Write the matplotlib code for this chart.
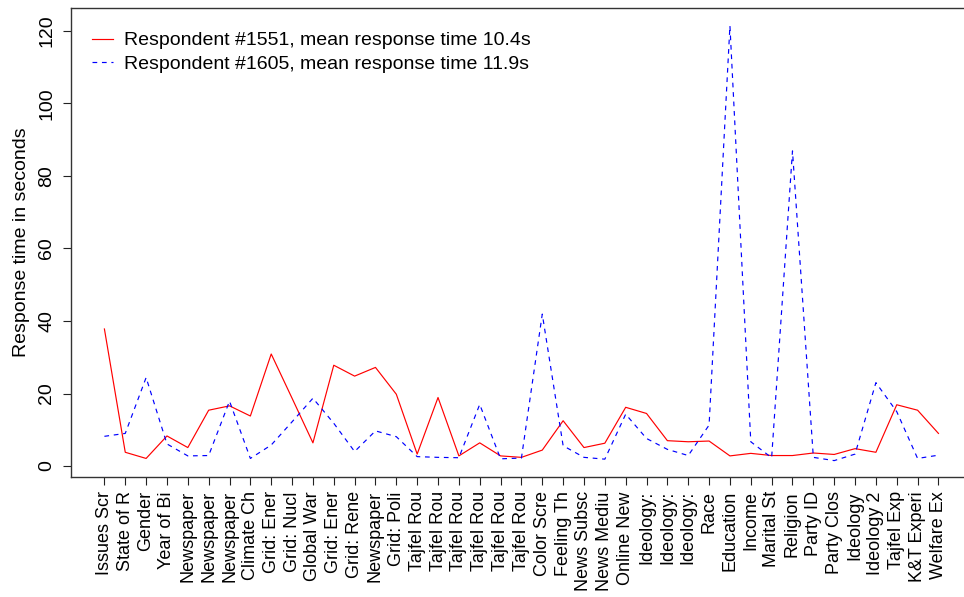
import numpy as np
import matplotlib
matplotlib.use("Agg")
import matplotlib.pyplot as plt

plt.rcParams['font.family'] = ['Liberation Sans', 'DejaVu Sans']

# item labels (truncated to 10 chars)
preguntas = ["Issues Scr", "State of R", "Gender", "Year of Bi", "Newspaper",
             "Newspaper", "Newspaper", "Climate Ch", "Grid: Ener", "Grid: Nucl",
             "Global War", "Grid: Ener", "Grid: Rene", "Newspaper", "Grid: Poli",
             "Tajfel Rou", "Tajfel Rou", "Tajfel Rou", "Tajfel Rou", "Tajfel Rou",
             "Tajfel Rou", "Color Scre", "Feeling Th", "News Subsc", "News Mediu",
             "Online New", "Ideology:", "Ideology:", "Ideology:", "Race",
             "Education", "Income", "Marital St", "Religion", "Party ID",
             "Party Clos", "Ideology", "Ideology 2", "Tajfel Exp", "K&T Experi",
             "Welfare Ex"]

# response times in seconds
resp_1551 = [37.8, 3.8, 2.1, 8.3, 5.1, 15.4, 16.6, 13.8, 30.9, 18.7,
             6.4, 27.8, 24.8, 27.2, 19.8, 3.3, 18.9, 2.8, 6.4, 2.8,
             2.4, 4.4, 12.5, 5.1, 6.3, 16.2, 14.5, 7.0, 6.7, 6.9,
             2.8, 3.5, 2.9, 2.9, 3.6, 3.2, 4.8, 3.8, 16.9, 15.4,
             9.0]
resp_1605 = [8.2, 9.0, 24.4, 6.1, 2.8, 2.9, 17.9, 2.1, 5.8, 12.2,
             18.7, 11.8, 4.0, 9.7, 8.1, 2.6, 2.4, 2.3, 17.0, 2.0,
             2.2, 41.9, 5.6, 2.4, 1.9, 14.3, 7.6, 4.6, 2.9, 11.3,
             121.4, 6.7, 2.3, 86.9, 2.4, 1.5, 3.3, 23.0, 15.0, 2.1,
             3.0]

etiquetas = ["Respondent #1551, mean response time 10.4s",
             "Respondent #1605, mean response time 11.9s"]

x = np.arange(1, len(preguntas) + 1)
fs = 14

fig = plt.figure(figsize=(9.64, 5.97), dpi=100)
ax = fig.add_axes([0.0737, 0.2005, 0.9344, 0.7861])

ax.plot(x, resp_1551, color='red', lw=0.85, label=etiquetas[0])
ax.plot(x, resp_1605, color='blue', lw=0.85, ls=(0, (4, 4)), label=etiquetas[1])

ax.set_xlim(-0.6, 42.6)
ax.set_ylim(-3.1, 126.3)

ax.set_xticks(x)
ax.set_xticklabels(preguntas, rotation=90, fontsize=13)
ax.set_yticks([0, 20, 40, 60, 80, 100, 120])
ax.set_yticklabels(['0', '20', '40', '60', '80', '100', '120'], rotation=90,
                   va='center', fontsize=fs)
ax.tick_params(length=5.5, width=0.8, color='#222222')
ax.tick_params(axis='y', pad=6)
ax.tick_params(axis='x', pad=4.5)
ax.set_ylabel("Response time in seconds", fontsize=fs, labelpad=6)

for s in ax.spines.values():
    s.set_linewidth(1.0)
    s.set_color('#333333')

ax.legend(loc='upper left', frameon=False, fontsize=fs, handlelength=1.08,
          handletextpad=0.57, borderaxespad=0, borderpad=0, labelspacing=0.3,
          bbox_to_anchor=(0.0233, 0.9495))

fig.savefig("out.png", dpi=100)
